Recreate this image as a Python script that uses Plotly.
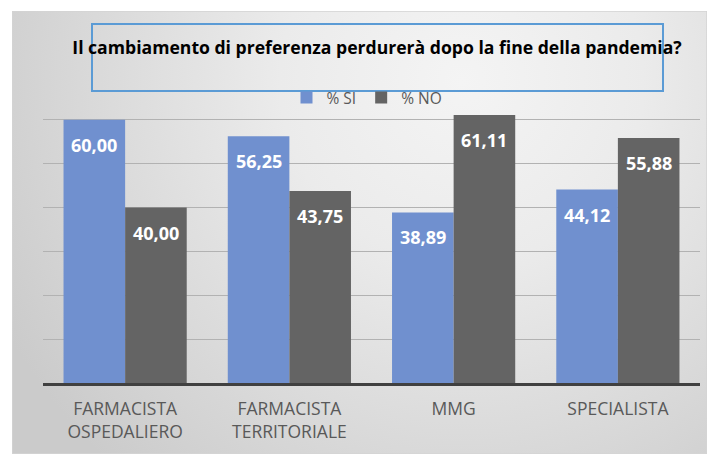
import base64
import plotly.graph_objects as go

# Survey categories and percentages
categories = ["FARMACISTA<br>OSPEDALIERO", "FARMACISTA<br>TERRITORIALE", "MMG", "SPECIALISTA"]
series_names = ["% SI", "% NO"]
si_values = [60.00, 56.25, 38.89, 44.12]
no_values = [40.00, 43.75, 61.11, 55.88]
title_text = "Il cambiamento di preferenza perdurerà dopo la fine della pandemia?"

W, H = 707, 454
M_L, M_R, M_T, M_B = 43, 7, 76, 71
plot_w = W - M_L - M_R
plot_h = H - M_T - M_B
BARGAP = 0.25

colors = ["#7090CF", "#646464"]

fig = go.Figure()
for name, vals, col in zip(series_names, [si_values, no_values], colors):
    fig.add_trace(go.Bar(x=categories, y=vals, name=name, marker_color=col,
                         marker_line_width=0))

# Value labels sitting inside the top of each bar
bar_px = plot_w / len(categories) * (1 - BARGAP) / 2
for k, vals in enumerate([si_values, no_values]):
    shift = (k - 0.5) * bar_px
    for c, v in zip(categories, vals):
        fig.add_annotation(x=c, y=v, xref="x", yref="y", xshift=shift, yshift=-25,
                           text=f"{v:.2f}".replace(".", ","), showarrow=False,
                           font=dict(family="Open Sans", size=18, color="white", weight="bold"),
                           xanchor="center", yanchor="middle")

# Soft radial-gradient panel behind the chart
panel_svg = f"""<svg xmlns='http://www.w3.org/2000/svg' width='695' height='443' viewBox='0 0 695 443' preserveAspectRatio='none'>
<defs><radialGradient id='g' gradientUnits='userSpaceOnUse' cx='450' cy='70' r='520'>
<stop offset='0' stop-color='#f4f4f4'/><stop offset='0.35' stop-color='#ebebeb'/><stop offset='1' stop-color='#cbcbcb'/>
</radialGradient></defs>
<rect x='0' y='0' width='695' height='443' fill='url(#g)' stroke='#d4d4d4' stroke-width='1.5'/></svg>"""
panel_uri = "data:image/svg+xml;base64," + base64.b64encode(panel_svg.encode()).decode()

def px_x(px):
    return (px - M_L) / plot_w

def px_y(py):
    return (H - M_B - py) / plot_h

fig.add_layout_image(source=panel_uri, xref="paper", yref="paper",
                     x=px_x(12), y=px_y(11), sizex=695 / plot_w, sizey=443 / plot_h,
                     xanchor="left", yanchor="top", sizing="stretch", layer="below")

# Framed title box
fig.add_shape(type="rect", xref="paper", yref="paper",
              x0=px_x(92), x1=px_x(663), y0=px_y(91), y1=px_y(24),
              line=dict(color="#5B9BD5", width=2), fillcolor="rgba(0,0,0,0)")

fig.update_layout(
    width=W, height=H,
    margin=dict(l=M_L, r=M_R, t=M_T, b=M_B),
    paper_bgcolor="white", plot_bgcolor="rgba(0,0,0,0)",
    barmode="group", bargap=BARGAP, bargroupgap=0,
    separators=",.",
    title=dict(text=title_text, xref="container", yref="container",
               x=377 / W, y=1 - 48 / H, xanchor="center", yanchor="middle",
               font=dict(family="Open Sans", size=17.6, color="black", weight="bold")),
    legend=dict(orientation="h", xref="paper", yref="paper",
                x=px_x(367), y=px_y(98), xanchor="center", yanchor="middle",
                font=dict(family="Open Sans", size=15.5, color="#595959"),
                bgcolor="rgba(0,0,0,0)", itemwidth=30),
    showlegend=True,
)
fig.update_xaxes(showline=True, linecolor="#404040", linewidth=3, ticks="",
                 tickfont=dict(family="Open Sans", size=17.5, color="#595959"),
                 ticklabelstandoff=8, showgrid=False)
fig.update_yaxes(range=[0, 70], dtick=10, showticklabels=False, zeroline=False,
                 showgrid=True, gridcolor="#b2b2b2", gridwidth=1.3)

fig.write_html("out.html")
